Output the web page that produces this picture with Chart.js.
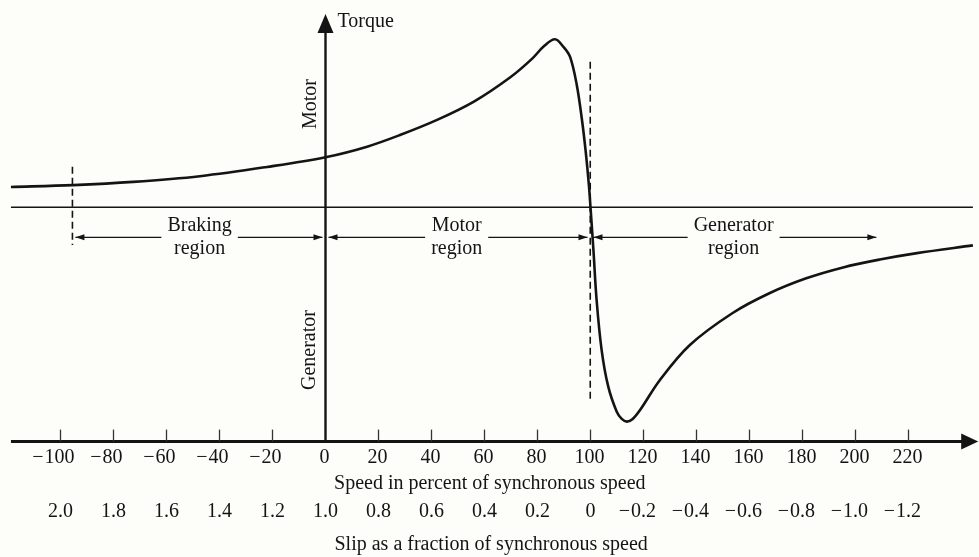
<!DOCTYPE html>
<html>
<head>
<meta charset="utf-8">
<script src="https://cdn.jsdelivr.net/npm/chart.js@4"></script>
<style>
  html, body { margin: 0; padding: 0; background: #fdfdf9; }
  #wrap { width: 979px; height: 557px; position: relative; }
  canvas { display: block; }
</style>
</head>
<body>
<div id="wrap"><canvas id="c" width="979" height="557"></canvas></div>
<script>
// ---- data ----
const speedTicks = [-100, -80, -60, -40, -20, 0, 20, 40, 60, 80, 100, 120, 140, 160, 180, 200, 220];
const speedLabels = ['−100', '−80', '−60', '−40', '−20', '0', '20', '40', '60', '80', '100', '120', '140', '160', '180', '200', '220'];
const slipLabels = ['2.0', '1.8', '1.6', '1.4', '1.2', '1.0', '0.8', '0.6', '0.4', '0.2', '0', '−0.2', '−0.4', '−0.6', '−0.8', '−1.0', '−1.2'];

// torque-speed curve (speed in % of synchronous speed, torque relative to pull-out torque = 100)
const curveSpeed = [-118.7, -95.3, -72.6, -47.4, -22.1, 0, 15.7, 28.1, 42.1, 56.0, 70.0, 78.0, 82.5, 86.6, 89.8, 92.3, 94.8, 96.7, 98.2, 99.4, 100,
                    101.1, 102.3, 104.2, 106.7, 109.9, 111.8, 113.7, 115.8, 118.7, 126.2, 137.5, 153.5, 167.5, 181.4, 195.3, 209.2, 223.2, 244.3];
const curveTorque = [12.1, 13.2, 15.1, 18.5, 24.0, 29.8, 36.1, 43.0, 52.0, 62.9, 77.7, 88.5, 96.0, 100, 95.5, 89.5, 73.0, 53.0, 33.0, 13.0, 0,
                    -25.4, -55.2, -85.0, -106.8, -121.7, -126.0, -127.6, -126.2, -120.7, -102.8, -82.0, -63.1, -51.2, -42.3, -35.8, -31.1, -27.3, -22.7];

// region boundaries (speed %)
const regionNames = [['Braking', 'region'], ['Motor', 'region'], ['Generator', 'region']];
const regionStart = [-95.5, 0, 100];
const regionEnd = [0, 100, 209];
const regionTextCenter = [-47.5, 49.5, 154];

// ---- layout constants (data units) ----
const X_MIN = -122.83, X_MAX = 246.6;
const Y_MIN = -208.2, Y_MAX = 123.4;
const AXIS_T = -139.5;     // torque level where speed axis is drawn
const TOP_T = 115;         // arrow tip of torque axis
const LEFT_V = -118.7;     // left end of horizontal lines
const ZERO_RIGHT_V = 244.3;
const ARROW_RIGHT_V = 246.3;

const FONT = '20px "Liberation Serif", "Times New Roman", serif';
const INK = '#141414';

function arrowHead(ctx, x, y, dir, len, half) {
  ctx.beginPath();
  if (dir === 'right') { ctx.moveTo(x, y); ctx.lineTo(x - len, y - half); ctx.lineTo(x - len, y + half); }
  else if (dir === 'left') { ctx.moveTo(x, y); ctx.lineTo(x + len, y - half); ctx.lineTo(x + len, y + half); }
  else { ctx.moveTo(x, y); ctx.lineTo(x - half, y + len); ctx.lineTo(x + half, y + len); }
  ctx.closePath();
  ctx.fill();
}

function signedLabel(ctx, text, cx, cy) {
  ctx.textBaseline = 'middle';
  if (text.startsWith('−')) {
    const body = text.slice(1);
    const w = ctx.measureText(body).width;
    ctx.textAlign = 'left';
    ctx.fillText(body, cx - w / 2, cy);
    ctx.textAlign = 'right';
    ctx.fillText('−', cx - w / 2 - 1, cy);
  } else {
    ctx.textAlign = 'center';
    ctx.fillText(text, cx, cy);
  }
}

const decor = {
  id: 'decor',
  beforeDatasetsDraw(chart) {
    const ctx = chart.ctx;
    const xs = chart.scales.x, ys = chart.scales.y;
    const X = v => xs.getPixelForValue(v);
    const Y = t => ys.getPixelForValue(t);
    ctx.save();
    ctx.strokeStyle = INK; ctx.fillStyle = INK;

    // zero torque line
    ctx.lineWidth = 1.6;
    ctx.beginPath(); ctx.moveTo(X(LEFT_V), Y(0)); ctx.lineTo(X(ZERO_RIGHT_V), Y(0)); ctx.stroke();

    // speed axis
    const ay = Y(AXIS_T);
    ctx.lineWidth = 3;
    ctx.beginPath(); ctx.moveTo(X(LEFT_V), ay); ctx.lineTo(X(ARROW_RIGHT_V) - 14, ay); ctx.stroke();
    arrowHead(ctx, X(ARROW_RIGHT_V), ay, 'right', 17, 8);

    // torque axis
    const x0 = X(0);
    ctx.lineWidth = 2.4;
    ctx.beginPath(); ctx.moveTo(x0, ay); ctx.lineTo(x0, Y(TOP_T) + 15); ctx.stroke();
    arrowHead(ctx, x0, Y(TOP_T), 'up', 19, 8);

    // tick marks
    ctx.lineWidth = 1.3;
    ctx.strokeStyle = '#333';
    speedTicks.forEach(v => {
      if (v === 0) return;
      ctx.beginPath(); ctx.moveTo(X(v), ay); ctx.lineTo(X(v), ay - 12); ctx.stroke();
    });
    ctx.strokeStyle = INK;

    // dashed verticals
    ctx.lineWidth = 1.6;
    ctx.setLineDash([7, 4]);
    ctx.beginPath(); ctx.moveTo(X(regionStart[0]), Y(24.2)); ctx.lineTo(X(regionStart[0]), Y(-22.4)); ctx.stroke();
    ctx.beginPath(); ctx.moveTo(X(99.9), Y(86.7)); ctx.lineTo(X(99.9), Y(-115.7)); ctx.stroke();
    ctx.setLineDash([]);

    // region arrows and labels
    ctx.font = FONT;
    const y0 = Y(0);
    const arrowY = y0 + 30;
    ctx.lineWidth = 1.2;
    for (let i = 0; i < 3; i++) {
      const xs0 = X(regionStart[i]) + 3;
      const xe = X(regionEnd[i]) - 3;
      const xc = X(regionTextCenter[i]);
      const tw = Math.max(ctx.measureText(regionNames[i][0]).width, ctx.measureText(regionNames[i][1]).width);
      const gapL = xc - tw / 2 - 6, gapR = xc + tw / 2 + 6;
      ctx.beginPath(); ctx.moveTo(xs0, arrowY); ctx.lineTo(gapL, arrowY); ctx.stroke();
      ctx.beginPath(); ctx.moveTo(gapR, arrowY); ctx.lineTo(xe, arrowY); ctx.stroke();
      arrowHead(ctx, xs0, arrowY, 'left', 9, 3);
      arrowHead(ctx, xe, arrowY, 'right', 9, 3);
      ctx.textAlign = 'center'; ctx.textBaseline = 'middle';
      ctx.fillText(regionNames[i][0], xc, y0 + 18);
      ctx.fillText(regionNames[i][1], xc, y0 + 41);
    }

    // axis labels
    ctx.textAlign = 'left'; ctx.textBaseline = 'middle';
    ctx.fillText('Torque', x0 + 12, Y(TOP_T) + 8);
    ctx.save();
    ctx.translate(x0 - 14.5, Y(61.5)); ctx.rotate(-Math.PI / 2);
    ctx.textAlign = 'center'; ctx.fillText('Motor', 0, 0);
    ctx.restore();
    ctx.save();
    ctx.translate(x0 - 15.5, Y(-85)); ctx.rotate(-Math.PI / 2);
    ctx.textAlign = 'center'; ctx.fillText('Generator', 0, 0);
    ctx.restore();

    // tick labels, speed and slip
    speedTicks.forEach((v, i) => {
      signedLabel(ctx, speedLabels[i], X(v) - 1, ay + 16);
      signedLabel(ctx, slipLabels[i], X(v), ay + 70);
    });
    ctx.textAlign = 'center';
    ctx.fillText('Speed in percent of synchronous speed', X(62), ay + 42);
    ctx.fillText('Slip as a fraction of synchronous speed', X(62.5), ay + 103);
    ctx.restore();
  }
};

new Chart(document.getElementById('c'), {
  type: 'line',
  data: {
    datasets: [{
      data: curveSpeed.map((v, i) => ({ x: v, y: curveTorque[i] })),
      borderColor: INK,
      borderWidth: 2.6,
      pointRadius: 0,
      fill: false,
      tension: 0.35
    }]
  },
  options: {
    responsive: false,
    devicePixelRatio: 1,
    animation: false,
    layout: { padding: 0 },
    plugins: { legend: { display: false }, tooltip: { enabled: false } },
    scales: {
      x: { type: 'linear', min: X_MIN, max: X_MAX, display: false },
      y: { type: 'linear', min: Y_MIN, max: Y_MAX, display: false }
    }
  },
  plugins: [decor]
});
</script>
</body>
</html>
